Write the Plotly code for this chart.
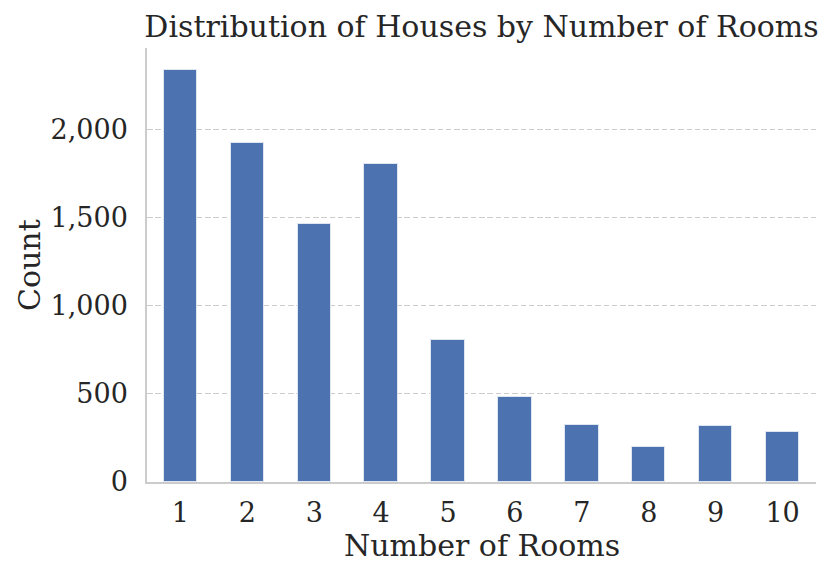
import plotly.graph_objects as go

rooms = ["1", "2", "3", "4", "5", "6", "7", "8", "9", "10"]
counts = [2335, 1921, 1461, 1805, 804, 481, 324, 199, 320, 284]
y_ticks = [0, 500, 1000, 1500, 2000]
y_tick_labels = ["0", "500", "1,000", "1,500", "2,000"]

FONT = "DejaVu Serif"
TXT = "#262626"
L, R, T, B = 147, 15, 48, 95
W, H = 831, 577

fig = go.Figure(
    go.Bar(
        x=list(range(len(rooms))),
        y=counts,
        width=0.5,
        marker=dict(color="#4C72B0", line=dict(color="#dfe6f2", width=1)),
    )
)

fig.update_layout(
    width=W,
    height=H,
    margin=dict(l=L, r=R, t=T, b=B, autoexpand=False),
    paper_bgcolor="white",
    plot_bgcolor="white",
    font=dict(family=FONT, color=TXT, size=27),
    title=dict(
        text="Distribution of Houses by Number of Rooms",
        x=(L + W - R) / 2 / W,
        xanchor="center",
        y=1 - 26 / H,
        yanchor="middle",
        font=dict(family=FONT, size=30, color=TXT),
    ),
    showlegend=False,
    bargap=0,
    annotations=[
        dict(
            text="Number of Rooms",
            xref="paper", yref="paper",
            x=0.5, y=-(545 - (H - B)) / (H - T - B),
            xanchor="center", yanchor="middle",
            showarrow=False,
            font=dict(family=FONT, size=30, color=TXT),
        ),
        dict(
            text="Count",
            xref="paper", yref="paper",
            x=-(L - 29) / (W - L - R), y=0.5,
            xanchor="center", yanchor="middle",
            textangle=-90,
            showarrow=False,
            font=dict(family=FONT, size=30, color=TXT),
        ),
    ],
)

fig.update_xaxes(
    range=[-0.5, 9.5],
    tickmode="array",
    tickvals=list(range(len(rooms))),
    ticktext=rooms,
    showgrid=False,
    showline=True,
    linecolor="#cccccc",
    linewidth=1.5,
    ticks="",
    zeroline=False,
    automargin=False,
    ticklabelstandoff=6,
    tickfont=dict(size=27),
)

fig.update_yaxes(
    range=[0, 2460],
    tickmode="array",
    tickvals=y_ticks,
    ticktext=y_tick_labels,
    showgrid=True,
    gridcolor="#cccccc",
    griddash="5.5px,2.8px",
    gridwidth=1.2,
    showline=True,
    linecolor="#cccccc",
    linewidth=1.5,
    ticks="",
    zeroline=False,
    automargin=False,
    ticklabelstandoff=12,
    tickfont=dict(size=27),
)

fig.write_html(
    "out.html",
    config={"displayModeBar": False},
    post_script="document.body.style.margin='0';",
)
